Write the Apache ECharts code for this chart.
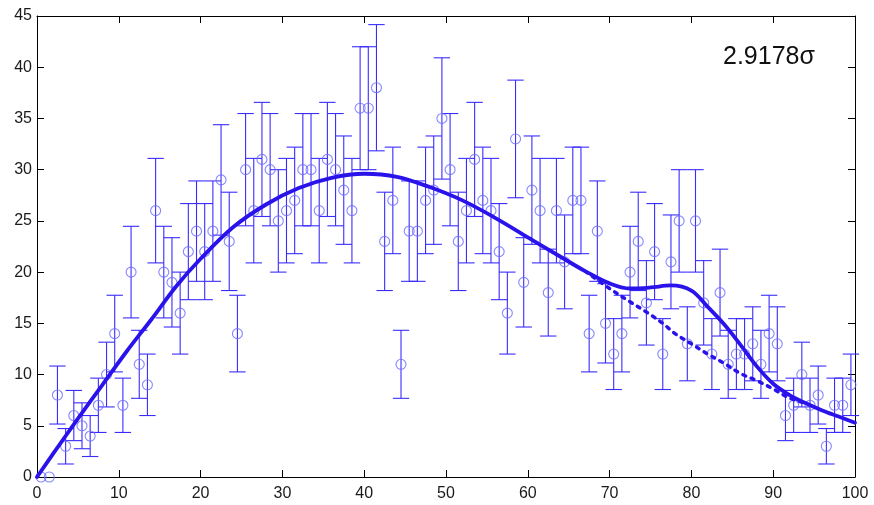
<!DOCTYPE html>
<html>
<head>
<meta charset="utf-8">
<script src="https://cdn.jsdelivr.net/npm/echarts@6/dist/echarts.min.js"></script>
<style>
html,body{margin:0;padding:0;background:#fff;}
#chart{width:874px;height:505px;}
</style>
</head>
<body>
<div id="chart"></div>
<script>
// Bin centres
var binCenters = [0.5,1.5,2.5,3.5,4.5,5.5,6.5,7.5,8.5,9.5,
  10.5,11.5,12.5,13.5,14.5,15.5,16.5,17.5,18.5,19.5,
  20.5,21.5,22.5,23.5,24.5,25.5,26.5,27.5,28.5,29.5,
  30.5,31.5,32.5,33.5,34.5,35.5,36.5,37.5,38.5,39.5,
  40.5,41.5,42.5,43.5,44.5,45.5,46.5,47.5,48.5,49.5,
  50.5,51.5,52.5,53.5,54.5,55.5,56.5,57.5,58.5,59.5,
  60.5,61.5,62.5,63.5,64.5,65.5,66.5,67.5,68.5,69.5,
  70.5,71.5,72.5,73.5,74.5,75.5,76.5,77.5,78.5,79.5,
  80.5,81.5,82.5,83.5,84.5,85.5,86.5,87.5,88.5,89.5,
  90.5,91.5,92.5,93.5,94.5,95.5,96.5,97.5,98.5,99.5];
// Counts per bin
var counts = [0,0,8,3,6,5,4,7,10,14,
  7,20,11,9,26,20,19,16,22,24,
  22,24,29,23,14,30,26,31,30,25,
  26,27,30,30,26,31,30,28,26,36,
  36,38,23,27,11,24,24,27,28,35,
  30,23,26,31,27,26,22,16,33,19,
  28,26,18,26,21,27,27,14,24,15,
  12,14,20,23,17,22,12,21,25,13,
  25,17,12,18,11,12,12,13,11,14,
  13,6,7,10,7,8,3,7,7,9];
// Error half-lengths
var errors = [0,0,2.83,1.73,2.45,2.24,2,2.65,3.16,3.74,
  2.65,4.47,3.32,3,5.1,4.47,4.36,4,4.69,4.9,
  4.69,4.9,5.39,4.8,3.74,5.48,5.1,5.57,5.48,5,
  5.1,5.2,5.48,5.48,5.1,5.57,5.48,5.29,5.1,6,
  6,6.16,4.8,5.2,3.32,4.9,4.9,5.2,5.29,5.92,
  5.48,4.8,5.1,5.57,5.2,5.1,4.69,4,5.74,4.36,
  5.29,5.1,4.24,5.1,4.58,5.2,5.2,3.74,4.9,3.87,
  3.46,3.74,4.47,4.8,4.12,4.69,3.46,4.58,5,3.61,
  5,4.12,3.46,4.24,3.32,3.46,3.46,3.61,3.32,3.74,
  3.61,2.45,2.65,3.16,2.65,2.83,1.73,2.65,2.65,3];
// Signal + background fit (solid)
var fitX = [0,2,5,8,11,14,17,20,24,28,32,36,40,44,48,52,56,60,64,67,70,72.5,75,77.5,80,82,84,86,88,90,92,94,96,98,100];
var fitY = [0,2.3,5.7,9.0,12.3,15.4,18.6,21.3,24.4,26.6,28.2,29.2,29.6,29.3,28.3,27.0,25.3,23.4,21.5,20.1,18.9,18.4,18.5,18.7,18.2,16.6,14.9,12.9,10.8,9.1,8.0,7.2,6.5,5.9,5.3];
// Background-only fit (dotted)
var bgX = [67,70,72.5,74.5,76.5,78,80,82,84,86,88,90,92,94];
var bgY = [20.1,18.4,17.1,16.1,15.0,14.0,13.0,12.0,11.1,10.1,9.4,8.6,7.7,7.2];
// Tick labels
var xTicks = ['0','10','20','30','40','50','60','70','80','90','100'];
var yTicks = ['0','5','10','15','20','25','30','35','40','45'];
var annotation = '2.9178\u03c3';

var pts = binCenters.map(function(x,i){return [x, counts[i], errors[i]];});
var fitData = fitX.map(function(x,i){return [x, fitY[i]];});
var bgData = bgX.map(function(x,i){return [x, bgY[i]];});

var chart = echarts.init(document.getElementById('chart'), null, {renderer:'canvas'});
var labelFont = {fontFamily:'Liberation Sans', fontSize:16, color:'#1a1a1a'};
var tick = {show:true, inside:true, length:7, lineStyle:{color:'#000', width:1}};
var line = {show:true, onZero:false, lineStyle:{color:'#000', width:1}};
chart.setOption({
  animation:false,
  grid:{left:37, right:19, top:16, bottom:28},
  xAxis:[
    {type:'value', min:0, max:100, interval:10, position:'bottom',
     axisLine:line, axisTick:tick, splitLine:{show:false},
     axisLabel:Object.assign({margin:9, formatter:function(v){return xTicks[Math.round(v/10)];}}, labelFont)},
    {type:'value', min:0, max:100, interval:10, position:'top',
     axisLine:line, axisTick:tick, splitLine:{show:false}, axisLabel:{show:false}}
  ],
  yAxis:[
    {type:'value', min:0, max:45, interval:5, position:'left',
     axisLine:line, axisTick:tick, splitLine:{show:false},
     axisLabel:Object.assign({margin:5, formatter:function(v){return yTicks[Math.round(v/5)];}}, labelFont)},
    {type:'value', min:0, max:45, interval:5, position:'right',
     axisLine:line, axisTick:tick, splitLine:{show:false}, axisLabel:{show:false}}
  ],
  series:[
    {type:'custom', z:1, data:pts, clip:false,
     renderItem:function(params, api){
       var x = api.value(0), y = api.value(1), e = api.value(2);
       if (!(e > 0)) return null;
       var capHalf = 1;
       var t = api.coord([x, y+e]), b = api.coord([x, y-e]);
       var tl = api.coord([x-capHalf, y+e]), tr = api.coord([x+capHalf, y+e]);
       var bl = api.coord([x-capHalf, y-e]), br = api.coord([x+capHalf, y-e]);
       var st = {stroke:'#3a2cff', lineWidth:1.1};
       return {type:'group', children:[
         {type:'line', shape:{x1:t[0],y1:t[1],x2:b[0],y2:b[1]}, style:st},
         {type:'line', shape:{x1:tl[0],y1:tl[1],x2:tr[0],y2:tr[1]}, style:st},
         {type:'line', shape:{x1:bl[0],y1:bl[1],x2:br[0],y2:br[1]}, style:st}
       ]};
     }},
    {type:'scatter', z:2, data:pts.map(function(p){return [p[0],p[1]];}), symbol:'circle', symbolSize:10,
     itemStyle:{color:'rgba(0,0,0,0)', borderColor:'#6a6aff', borderWidth:1.1}, clip:false},
    {type:'line', z:3, data:bgData, smooth:0.35, symbol:'none',
     lineStyle:{color:'#2a12ea', width:3.5, type:[3,6], cap:'round'}},
    {type:'line', z:4, data:fitData, smooth:0.35, symbol:'none',
     lineStyle:{color:'#2a12ea', width:3.8, cap:'round'}}
  ],
  graphic:[
    {type:'text', left:723, top:45, z:10,
     style:{text:annotation, font:'25px "Liberation Sans"', fill:'#111'}}
  ]
});
</script>
</body>
</html>
